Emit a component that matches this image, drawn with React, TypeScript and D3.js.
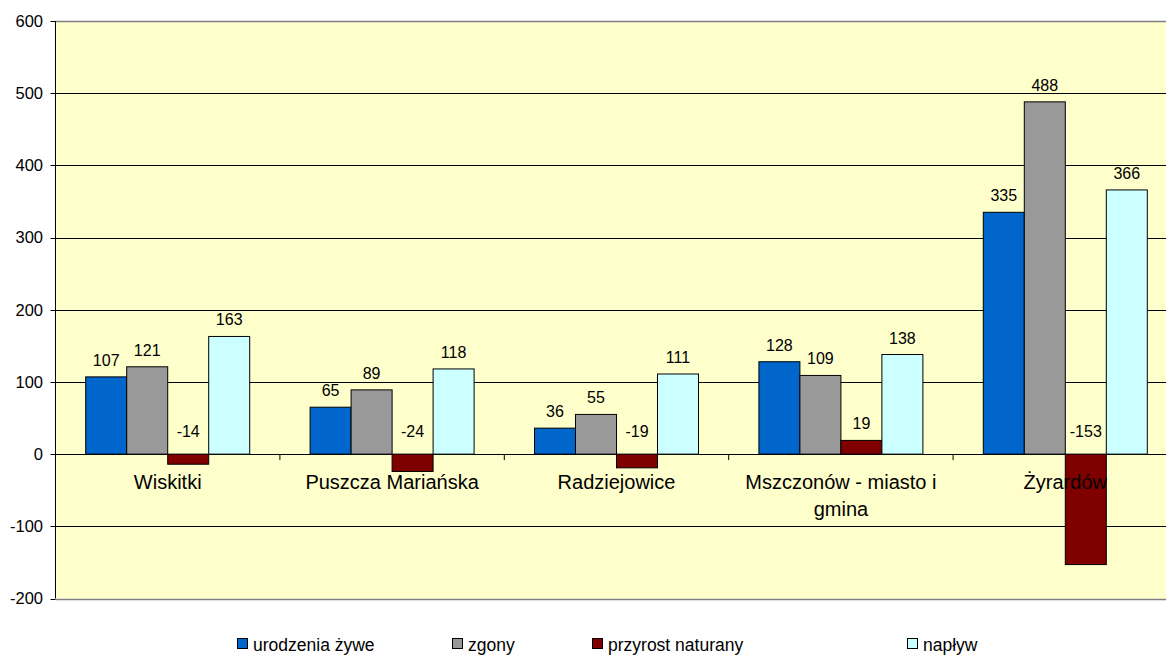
import React from "react";
import * as d3 from "d3";

const categories = ["Wiskitki", "Puszcza Mariańska", "Radziejowice", "Mszczonów - miasto i gmina", "Żyrardów"];
const seriesNames = ["urodzenia żywe", "zgony", "przyrost naturany", "napływ"];
const urodzenia = [107, 65, 36, 128, 335];
const zgony = [121, 89, 55, 109, 488];
const przyrost = [-14, -24, -19, 19, -153];
const naplyw = [163, 118, 111, 138, 366];
const yTicks = [-200, -100, 0, 100, 200, 300, 400, 500, 600];
const colors = ["#0066CC", "#999999", "#800000", "#CCFFFF"];

const W = 1166;
const H = 655;
const FONT = "'Liberation Sans', Arial, sans-serif";

function wrap(text: string, maxW: number, fontSize: number): string[] {
  const words = text.split(" ");
  const lines: string[] = [];
  let cur = "";
  const measure = (s: string) => s.length * fontSize * 0.5;
  for (const w of words) {
    const t = cur ? cur + " " + w : w;
    if (measure(t) > maxW && cur) {
      lines.push(cur);
      cur = w;
    } else cur = t;
  }
  if (cur) lines.push(cur);
  return lines;
}

export default function App() {
  const values = [urodzenia, zgony, przyrost, naplyw];
  const left = 55.5;
  const bandW = 224.4;
  const x = d3.scaleBand<string>().domain(categories).range([left, left + bandW * categories.length]).padding(0);
  const xs = d3.scaleBand<string>().domain(seriesNames).range([30.2, bandW - 30.2]).padding(0);
  const y = d3.scaleLinear().domain([-200, 600]).range([598.5, 21]);
  const y0 = y(0);
  const legendX = [237, 452, 592, 907];

  return (
    <svg width={W} height={H} style={{ position: "absolute", left: 0, top: 0, background: "#fff" }} fontFamily={FONT}>
      <rect x={left} y={y(600)} width={W - left} height={y(-200) - y(600)} fill="#FFFFCC" />
      {yTicks.filter((t) => t !== 600 && t !== -200).map((t) => (
        <line key={t} x1={left} x2={W} y1={Math.round(y(t)) + 0.5} y2={Math.round(y(t)) + 0.5} stroke="#000" strokeWidth={1} />
      ))}
      <line x1={left} x2={W} y1={Math.round(y(600)) + 0.5} y2={Math.round(y(600)) + 0.5} stroke="#808080" strokeWidth={1.5} />
      <line x1={left} x2={W} y1={Math.round(y(-200)) + 0.5} y2={Math.round(y(-200)) + 0.5} stroke="#808080" strokeWidth={1.5} />
      {categories.map((c, ci) =>
        values.map((vals, si) => {
          const v = vals[ci];
          const bx = (x(c) as number) + (xs(seriesNames[si]) as number);
          const top = Math.min(y(v), y0);
          const h = Math.abs(y(v) - y0);
          return (
            <rect key={c + si} x={bx} y={top} width={xs.bandwidth()} height={h} fill={colors[si]} stroke="#000" strokeWidth={1} />
          );
        })
      )}
      {categories.map((c, ci) =>
        values.map((vals, si) => {
          const v = vals[ci];
          const cx = (x(c) as number) + (xs(seriesNames[si]) as number) + xs.bandwidth() / 2;
          const by = v >= 0 ? y(v) - 11 : y0 - 17;
          return (
            <text key={"l" + c + si} x={cx} y={by} textAnchor="middle" fontSize={16} fill="#000">
              {v}
            </text>
          );
        })
      )}
      {/* left axis */}
      <line x1={left} x2={left} y1={y(600)} y2={y(-200)} stroke="#000" strokeWidth={1} />
      {yTicks.map((t) => (
        <g key={"t" + t}>
          <line x1={left - 5} x2={left} y1={Math.round(y(t)) + 0.5} y2={Math.round(y(t)) + 0.5} stroke="#000" />
          <text x={43} y={y(t)} dy="0.35em" textAnchor="end" fontSize={16.5} fill="#000">
            {t}
          </text>
        </g>
      ))}
      {/* category axis */}
      {categories.map((c, ci) => (
        <line key={"ct" + ci} x1={(x(c) as number) + bandW} x2={(x(c) as number) + bandW} y1={y0} y2={y0 + 6} stroke="#000" />
      ))}
      {categories.map((c) => {
        const lines = wrap(c, 205, 20);
        const cx = (x(c) as number) + bandW / 2;
        return (
          <text key={"cl" + c} x={cx} y={489} textAnchor="middle" fontSize={20} fill="#000">
            {lines.map((l, i) => (
              <tspan key={i} x={cx} dy={i === 0 ? 0 : 26.7}>
                {l}
              </tspan>
            ))}
          </text>
        );
      })}
      {/* legend */}
      {seriesNames.map((s, i) => (
        <g key={"lg" + s}>
          <rect x={legendX[i] + 0.5} y={638.5} width={10} height={10} fill={colors[i]} stroke="#000" strokeWidth={1} />
          <text x={legendX[i] + 16} y={650.5} fontSize={17.5} fill="#000">
            {s}
          </text>
        </g>
      ))}
    </svg>
  );
}
